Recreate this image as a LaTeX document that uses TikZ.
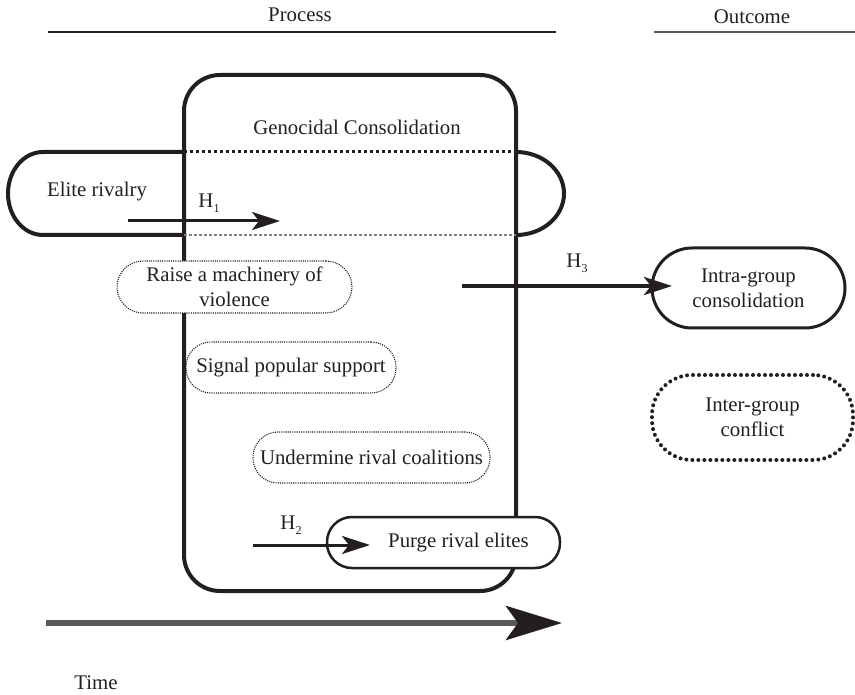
\documentclass[tikz,border=0pt]{standalone}
\usepackage{fontspec}
\setmainfont{Liberation Serif}
\usetikzlibrary{arrows.meta}
\definecolor{ink}{HTML}{231F20}
\definecolor{timegray}{HTML}{58595B}
\newcommand\Hsub[1]{H\raisebox{-5pt}{\fontsize{12}{12}\selectfont #1}}
\begin{document}
\begin{tikzpicture}[x=1pt,y=-1pt,
  lbl/.style={font=\fontsize{20.8}{25}\selectfont, text=ink, align=center, inner sep=0pt},
  pill/.style={lbl, draw=ink, fill=white, rounded corners=#1},
  thindot/.style={line width=1.1pt, dash pattern=on 1.1pt off 1.1pt},
  thickdot/.style={line width=4pt, line cap=round, dash pattern=on 0pt off 6pt},
  harrow/.style={draw=ink, line width=3pt, -{Stealth[length=28pt,width=18pt,inset=7pt]}}
]
\useasboundingbox (0,0) rectangle (855,695);
% headers
\node[lbl] (process) at (300,15) {Process};
\node[lbl] (outcome) at (752,17) {Outcome};
\coordinate (pl1) at (48,32); \coordinate (pl2) at (556,32);
\coordinate (ol1) at (654,32); \coordinate (ol2) at (855,32);
\draw[ink, line width=2.5pt] (pl1) -- (pl2);
\draw[timegray, line width=2.5pt] (ol1) -- (ol2);
% big box
\node[draw=ink, line width=4pt, rounded corners=36pt, minimum width=332pt, minimum height=516pt, inner sep=0pt] (gc) at (350,333) {};
\node[lbl] (gctext) at (357,127) {Genocidal Consolidation};
% elite rivalry shape
\draw[ink, line width=4pt] (184,152) -- (43,152) arc[start angle=270, end angle=90, x radius=35, y radius=41.5] -- (184,235);
\draw[ink, line width=4pt] (516,152) arc[start angle=270, end angle=450, x radius=48, y radius=41.5];
\draw[ink, line width=3pt, dash pattern=on 3pt off 3pt] (184,152) -- (516,152);
\draw[gray, line width=2.5pt, dash pattern=on 3pt off 2pt] (184,235) -- (516,235);
\node[lbl] (elite) at (97,192) {Elite rivalry};
% mechanisms
\node[pill=26pt, thindot, minimum width=235pt, minimum height=52pt] (raise) at (234.5,287) {Raise a machinery of\\violence};
\node[pill=25pt, thindot, minimum width=210pt, minimum height=51pt] (signal) at (291,367.5) {Signal popular support};
\node[pill=25pt, thindot, minimum width=237pt, minimum height=51pt] (undermine) at (371.5,457.5) {Undermine rival coalitions};
\node[pill=25pt, line width=2.5pt, minimum width=233pt, minimum height=51pt] (purge) at (443.5,542.5) {\hspace*{30pt}Purge rival elites};
% outcomes
\node[pill=40pt, line width=3pt, minimum width=193pt, minimum height=80pt] (intra) at (748.5,288) {Intra-group\\consolidation};
\node[pill=40pt, thickdot, minimum width=201pt, minimum height=85pt] (inter) at (752.5,417.5) {Inter-group\\conflict};
% hypothesis arrows
\coordinate (h1s) at (128,221); \coordinate (h1e) at (280,221);
\draw[harrow] (h1s) -- (h1e);
\node[lbl] (h1) at (209,203) {\Hsub{1}};
\coordinate (h2s) at (253,545); \coordinate (h2e) at (370,545);
\draw[harrow] (h2s) -- (h2e);
\node[lbl] (h2) at (291,525) {\Hsub{2}};
\coordinate (h3s) at (462,286); \coordinate (h3e) at (672,286);
\draw[harrow, line width=3.5pt] (h3s) -- (h3e);
\node[lbl] (h3) at (577,263) {\Hsub{3}};
% time
\coordinate (ts) at (46,623); \coordinate (te) at (562,623);
\draw[timegray, line width=6pt, -{Stealth[length=56pt,width=34pt,inset=12pt,color=ink]}] (ts) -- (te);
\node[lbl] (time) at (96,683) {Time};
\end{tikzpicture}
\end{document}
